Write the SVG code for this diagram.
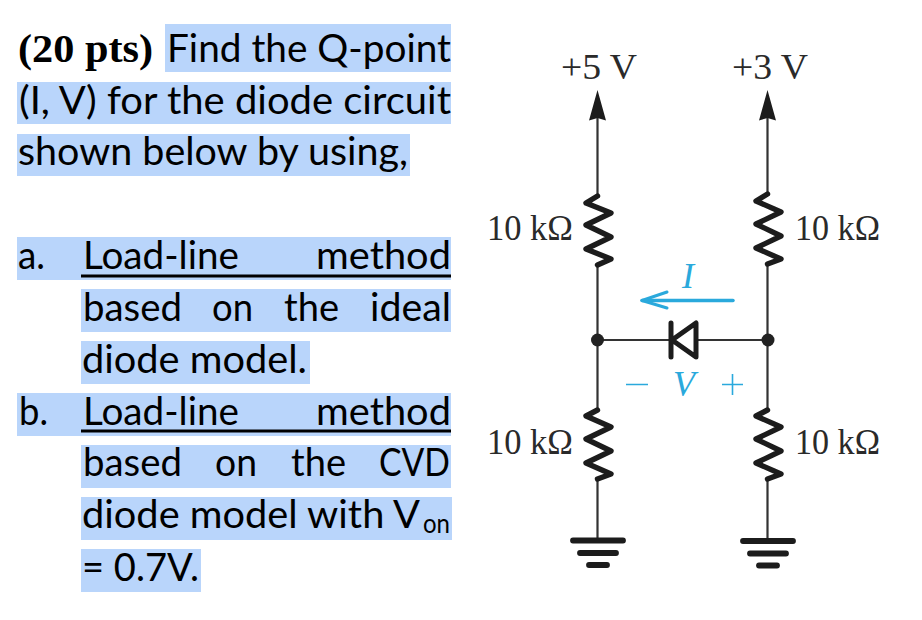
<svg xmlns="http://www.w3.org/2000/svg" width="922" height="620" viewBox="0 0 922 620">
<style>
.hl{fill:#b9d5fb}
.t{font-family:Lato,"Open Sans",sans-serif;font-size:39px;fill:#000}
.b{font-family:"Liberation Serif",serif;font-size:41px;font-weight:bold;fill:#000}
.c{font-family:"Liberation Serif",serif;font-size:35px;fill:#2a2a2a}
.i{font-family:"Liberation Serif",serif;font-size:36px;font-style:italic;fill:#2aa9dc}
.w{stroke:#333;stroke-width:2.2;fill:none}
.r{stroke:#1c1c1c;stroke-width:5.400;fill:none;stroke-linejoin:round;stroke-linecap:round}
.g{stroke:#1c1c1c;stroke-width:5.800;stroke-linecap:round}
.cy{stroke:#2aa9dc;fill:none}
.dot{fill:#222}
.head{fill:#1c1c1c}
</style>
<rect width="922" height="620" fill="#fff"/>
<g id="question-text">
<rect class="hl" x="165" y="24" width="286" height="48"/>
<rect class="hl" x="17" y="82" width="434" height="42"/>
<rect class="hl" x="17" y="134" width="393" height="42"/>
<rect class="hl" x="17" y="237" width="434" height="43"/>
<rect class="hl" x="81" y="289" width="370" height="43"/>
<rect class="hl" x="81" y="341" width="229" height="43"/>
<rect class="hl" x="17" y="393" width="434" height="43"/>
<rect class="hl" x="81" y="445" width="370" height="43"/>
<rect class="hl" x="81" y="497" width="371" height="43"/>
<rect class="hl" x="81" y="549" width="120" height="43"/>
<rect x="81" y="274.500" width="370" height="3" fill="#000"/>
<rect x="81" y="429.500" width="370" height="3" fill="#000"/>
<text class="b" x="18" y="62" textLength="135" lengthAdjust="spacingAndGlyphs">(20 pts)</text>
<text class="t" x="167" y="62" textLength="284" lengthAdjust="spacingAndGlyphs">Find the Q-point</text>
<text class="t" x="19" y="114" textLength="432" lengthAdjust="spacingAndGlyphs">(I, V) for the diode circuit</text>
<text class="t" x="18" y="165" textLength="390" lengthAdjust="spacingAndGlyphs">shown below by using,</text>
<text class="t" x="18" y="269" textLength="27" lengthAdjust="spacingAndGlyphs">a.</text>
<text class="t" x="83" y="269" textLength="156" lengthAdjust="spacingAndGlyphs">Load-line</text>
<text class="t" x="316" y="269" textLength="135" lengthAdjust="spacingAndGlyphs">method</text>
<text class="t" x="83" y="321" textLength="99" lengthAdjust="spacingAndGlyphs">based</text>
<text class="t" x="212" y="321" textLength="41" lengthAdjust="spacingAndGlyphs">on</text>
<text class="t" x="284" y="321" textLength="55" lengthAdjust="spacingAndGlyphs">the</text>
<text class="t" x="370" y="321" textLength="81" lengthAdjust="spacingAndGlyphs">ideal</text>
<text class="t" x="82" y="373" textLength="225" lengthAdjust="spacingAndGlyphs">diode model.</text>
<text class="t" x="19" y="425" textLength="29" lengthAdjust="spacingAndGlyphs">b.</text>
<text class="t" x="83" y="425" textLength="156" lengthAdjust="spacingAndGlyphs">Load-line</text>
<text class="t" x="316" y="425" textLength="135" lengthAdjust="spacingAndGlyphs">method</text>
<text class="t" x="83" y="476" textLength="99" lengthAdjust="spacingAndGlyphs">based</text>
<text class="t" x="215" y="476" textLength="42" lengthAdjust="spacingAndGlyphs">on</text>
<text class="t" x="291" y="476" textLength="55" lengthAdjust="spacingAndGlyphs">the</text>
<text class="t" x="379" y="476" textLength="71" lengthAdjust="spacingAndGlyphs">CVD</text>
<text class="t" x="82" y="528" textLength="338" lengthAdjust="spacingAndGlyphs">diode model with V</text>
<text class="t" x="423" y="533" style="font-size:26px" textLength="27" lengthAdjust="spacingAndGlyphs">on</text>
<text class="t" x="82" y="581" textLength="117" lengthAdjust="spacingAndGlyphs">= 0.7V.</text>
</g>
<g id="connectors">
<path class="w" d="M597.500 115V197M597.500 264V408M597.500 480V541"/>
<path class="w" d="M767.500 115V195M767.500 264V408M767.500 480V541"/>
<path class="w" d="M597.500 340H672M696 340H767.500"/>
</g>
<g id="supply-5v">
<path class="head" d="M597.500 90L606 120.500L597.500 118L589 120.500Z"/>
<text class="c" x="561" y="79" textLength="76" lengthAdjust="spacingAndGlyphs">+5 V</text>
</g>
<g id="supply-3v">
<path class="head" d="M767.500 90L776 120.500L767.500 118L759 120.500Z"/>
<text class="c" x="732" y="79" textLength="76" lengthAdjust="spacingAndGlyphs">+3 V</text>
</g>
<g id="r1">
<path class="r" d="M597.500 196L586 203L611 213L586 225L611 237L586 249L611 259L597.500 265"/>
<text class="c" x="487" y="240" textLength="86" lengthAdjust="spacingAndGlyphs">10 kΩ</text>
</g>
<g id="r2">
<path class="r" d="M767.500 194L756 201L781 212L756 224L781 236L756 248L781 259L767.500 264"/>
<text class="c" x="795" y="240" textLength="85" lengthAdjust="spacingAndGlyphs">10 kΩ</text>
</g>
<g id="r3">
<path class="r" d="M597.500 410L586 416L611 427L586 439L611 451L586 463L611 474L597.500 479"/>
<text class="c" x="487" y="454" textLength="86" lengthAdjust="spacingAndGlyphs">10 kΩ</text>
</g>
<g id="r4">
<path class="r" d="M767.500 410L756 416L781 427L756 439L781 451L756 463L781 474L767.500 479"/>
<text class="c" x="795" y="454" textLength="85" lengthAdjust="spacingAndGlyphs">10 kΩ</text>
</g>
<g id="junction-left"><circle class="dot" cx="597.500" cy="340" r="6.500"/></g>
<g id="junction-right"><circle class="dot" cx="768" cy="340" r="6.500"/></g>
<g id="diode">
<path class="r" d="M671 323V357M696 323V357L672 340Z" style="stroke-width:5"/>
</g>
<g id="current-arrow">
<path class="cy" stroke-width="3.500" stroke-linecap="round" d="M733 300.500H642"/>
<path class="cy" stroke-width="3" stroke-linecap="round" stroke-linejoin="round" d="M667 292L642 300.500L667 308"/>
<text class="i" x="682" y="288">I</text>
</g>
<g id="voltage-label">
<text class="i" x="673" y="396">V</text>
<path class="cy" stroke-width="1.600" d="M626 384.500H648M722 384.500H743M732.500 374V395"/>
</g>
<g id="ground-left">
<path class="g" d="M573 540.500H623M580 553H616"/>
<path class="g" d="M589 565H607"/>
</g>
<g id="ground-right">
<path class="g" d="M743 541H793M750 553.500H786"/>
<path class="g" d="M759 565.500H777"/>
</g>
</svg>
